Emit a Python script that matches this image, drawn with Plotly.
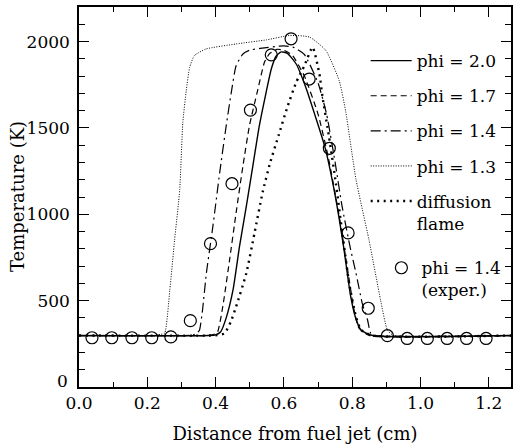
import plotly.graph_objects as go

# Temperature profiles across the flame, distance from the fuel jet (cm) vs T (K)
x_phi20 = [0, 0.38, 0.40, 0.415, 0.431, 0.451, 0.47, 0.49, 0.509, 0.528, 0.548, 0.563, 0.577,
           0.592, 0.61, 0.636, 0.665, 0.69, 0.72, 0.75, 0.775, 0.795, 0.81, 0.826, 0.86, 1.265]
t_phi20 = [298, 298, 302, 320, 400, 562, 814, 1047, 1279, 1512, 1706, 1841, 1915,
           1940, 1932, 1870, 1730, 1580, 1390, 1110, 810, 530, 400, 330, 298, 298]

x_phi17 = [0, 0.37, 0.39, 0.405, 0.421, 0.441, 0.46, 0.48, 0.499, 0.524, 0.543, 0.558, 0.58,
           0.60, 0.625, 0.66, 0.70, 0.73, 0.76, 0.785, 0.805, 0.82, 0.85, 1.265]
t_phi17 = [298, 298, 302, 315, 465, 737, 1008, 1279, 1512, 1725, 1880, 1930, 1955,
           1950, 1920, 1800, 1580, 1330, 1010, 700, 450, 340, 298, 298]

x_phi14 = [0, 0.31, 0.335, 0.347, 0.353, 0.362, 0.373, 0.392, 0.412, 0.431, 0.446, 0.46,
           0.48, 0.50, 0.53, 0.60, 0.63, 0.66, 0.70, 0.725, 0.75, 0.77, 0.795, 0.811,
           0.83, 0.845, 0.854, 0.87, 1.265]
t_phi14 = [298, 298, 302, 315, 330, 450, 659, 930, 1241, 1512, 1706, 1860,
           1928, 1950, 1960, 1975, 1965, 1925, 1760, 1580, 1300, 1050, 800, 660,
           480, 388, 312, 298, 298]

x_phi13 = [0, 0.22, 0.24, 0.251, 0.266, 0.28, 0.295, 0.304, 0.314, 0.324, 0.338, 0.372,
           0.46, 0.55, 0.616, 0.675, 0.723, 0.762, 0.781, 0.811, 0.849, 0.883, 0.903,
           0.92, 1.265]
t_phi13 = [298, 298, 305, 312, 562, 853, 1143, 1531, 1715, 1851, 1919, 1957,
           1986, 2010, 2035, 2026, 1948, 1773, 1595, 1202, 853, 504, 330,
           300, 298]

x_diff = [0, 0.38, 0.405, 0.426, 0.445, 0.46, 0.49, 0.514, 0.538, 0.56, 0.585, 0.61, 0.636,
          0.66, 0.684, 0.704, 0.713, 0.732, 0.752, 0.771, 0.791, 0.811, 0.826, 0.86, 1.265]
t_diff = [298, 298, 300, 310, 380, 465, 659, 892, 1130, 1300, 1460, 1620, 1764,
          1860, 1967, 1812, 1680, 1450, 1182, 892, 601, 407, 330, 298, 298]

# Measured temperatures, phi = 1.4
x_exp = [0.038, 0.096, 0.155, 0.213, 0.269, 0.326, 0.385, 0.448, 0.502, 0.563, 0.621,
         0.674, 0.733, 0.788, 0.847, 0.903, 0.961, 1.02, 1.078, 1.135, 1.192]
t_exp = [285, 285, 285, 285, 290, 384, 830, 1177, 1603, 1923, 2016,
         1783, 1382, 892, 456, 297, 281, 281, 281, 281, 281]

x_ticks = [0.0, 0.2, 0.4, 0.6, 0.8, 1.0, 1.2]
x_ticklabels = ["0.0", "0.2", "0.4", "0.6", "0.8", "1.0", "1.2"]
y_ticks = [0, 500, 1000, 1500, 2000]
y_ticklabels = ["", "500", "1000", "1500", "2000"]
y_origin_label = "0"
x_title = "Distance from fuel jet (cm)"
y_title = "Temperature (K)"

FONT = "DejaVu Serif"
SZ = 17

fig = go.Figure()

curves = [
    (x_phi20, t_phi20, "phi = 2.0", dict(width=1.4, dash="solid")),
    (x_phi17, t_phi17, "phi = 1.7", dict(width=1.2, dash="6px,4px")),
    (x_phi14, t_phi14, "phi = 1.4", dict(width=1.2, dash="10px,4px,2px,4px")),
    (x_phi13, t_phi13, "phi = 1.3", dict(width=1.0, dash="1px,1.5px")),
    (x_diff, t_diff, "diffusion<br>flame", dict(width=2.4, dash="2px,4.5px")),
]
for xs, ys, name, style in curves:
    fig.add_trace(go.Scatter(
        x=xs, y=ys, mode="lines", name=name, legendgroup=name,
        line=dict(color="black", shape="spline", smoothing=0.5, **style),
    ))

fig.add_trace(go.Scatter(
    x=x_exp, y=t_exp, mode="markers", name="phi = 1.4<br>(exper.)",
    legend="legend2",
    marker=dict(symbol="circle-open", size=12, color="black", line=dict(width=1.2, color="black")),
))

axis_common = dict(
    showgrid=False, zeroline=False, showline=True, linecolor="black", linewidth=1.5,
    mirror="allticks", ticks="inside", tickcolor="black", tickwidth=1.2,
    tickfont=dict(family=FONT, size=SZ, color="black"),
)

fig.update_xaxes(
    range=[0, 1.265], tickvals=x_ticks, ticktext=x_ticklabels, ticklen=10,
    minor=dict(dtick=0.1, tick0=0, ticklen=5, ticks="inside", tickcolor="black", tickwidth=1.2),
    title=dict(text=x_title, font=dict(family=FONT, size=18, color="black"), standoff=16),
    **axis_common,
)
fig.update_yaxes(
    range=[0, 2200], tickvals=y_ticks, ticktext=y_ticklabels, ticklen=10,
    ticklabelstandoff=4,
    minor=dict(dtick=100, tick0=0, ticklen=6, ticks="inside", tickcolor="black", tickwidth=1.2),
    **axis_common,
)

# vertical axis title, placed in the left margin
fig.add_annotation(
    x=0, y=0.5, xref="paper", yref="paper", text=y_title, showarrow=False,
    textangle=-90, xanchor="center", yanchor="middle", xshift=-62,
    font=dict(family=FONT, size=18, color="black"),
)

# origin label of the temperature axis sits up and to the left of "0.0"
fig.add_annotation(
    x=0, y=0, xref="x", yref="y", text=y_origin_label, showarrow=False,
    xanchor="right", yanchor="middle", xshift=-9, yshift=6,
    font=dict(family=FONT, size=SZ, color="black"),
)

legend_style = dict(
    bgcolor="rgba(0,0,0,0)", borderwidth=0,
    font=dict(family=FONT, size=SZ, color="black"),
    xanchor="left", yanchor="top", valign="top",
    traceorder="grouped",
)
fig.update_layout(
    width=515, height=444,
    margin=dict(l=79, r=2, t=7, b=57),
    paper_bgcolor="white", plot_bgcolor="white",
    legend=dict(x=0.6636, y=0.905, tracegroupgap=10, itemwidth=41, **legend_style),
    legend2=dict(x=0.70, y=0.36, itemwidth=30, **legend_style),
)

fig.write_html("out.html")
